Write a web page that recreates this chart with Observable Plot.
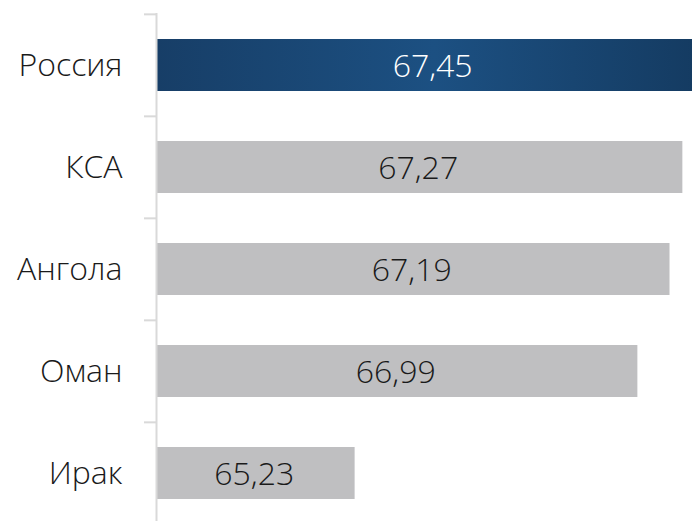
<!DOCTYPE html>
<html>
<head>
<meta charset="utf-8">
<script src="https://cdn.jsdelivr.net/npm/d3@7"></script>
<script src="https://cdn.jsdelivr.net/npm/@observablehq/plot@0.6"></script>
<style>
  html, body { margin: 0; padding: 0; background: #fff; }
  #chart svg { display: block; }
</style>
</head>
<body>
<div id="chart"></div>
<script>
const categories = ["Россия", "КСА", "Ангола", "Оман", "Ирак"];
const values = [67.45, 67.27, 67.19, 66.99, 65.23];
const valueLabels = ["67,45", "67,27", "67,19", "66,99", "65,23"];
const highlight = "Россия";
const baseline = 64;
const xMax = 67.33;

const data = categories.map((c, i) => ({ c, v: values[i], label: valueLabels[i] }));

const font = "'Open Sans', sans-serif";

const chart = Plot.plot({
  width: 692,
  height: 521,
  marginLeft: 157,
  marginRight: 0,
  marginTop: 13,
  marginBottom: 0,
  style: { fontFamily: font, background: "#fff" },
  x: { domain: [baseline, xMax], axis: null },
  y: { domain: categories, range: [13, 524.5], paddingInner: 0.49, paddingOuter: 0.245, axis: null, label: null },
  marks: [
    Plot.barX(data, {
      y: "c", x1: baseline, x2: "v",
      fill: d => d.c === highlight ? "url(#hlgrad)" : "#bfbfc1",
      clip: true
    }),
    Plot.ruleX([baseline], { stroke: "#d9d9d9", strokeWidth: 2, dx: -1 }),
    Plot.axisY({
      tickSize: 12, text: null, label: null, stroke: "#d9d9d9", strokeWidth: 2, dy: -51.15, dx: -1
    }),
    Plot.axisY({
      tickSize: 0, tickPadding: 35, label: null, fontSize: 32, fontWeight: 300, fill: "#1a1a1a"
    }),
    Plot.text(data, {
      y: "c", x: d => (baseline + d.v) / 2, text: "label",
      fill: d => d.c === highlight ? "#ffffff" : "#1a1a1a",
      fontSize: 32, fontWeight: 300, dy: 1, dx: -2
    })
  ]
});

const svg = d3.select(chart);
const defs = svg.insert("defs", ":first-child");
const g = defs.append("linearGradient").attr("id", "hlgrad").attr("x1", "0").attr("x2", "1").attr("y1", "0").attr("y2", "0");
g.append("stop").attr("offset", "0%").attr("stop-color", "#173e67");
g.append("stop").attr("offset", "50%").attr("stop-color", "#1c5082");
g.append("stop").attr("offset", "100%").attr("stop-color", "#143a60");

document.getElementById("chart").appendChild(chart);
</script>
</body>
</html>
